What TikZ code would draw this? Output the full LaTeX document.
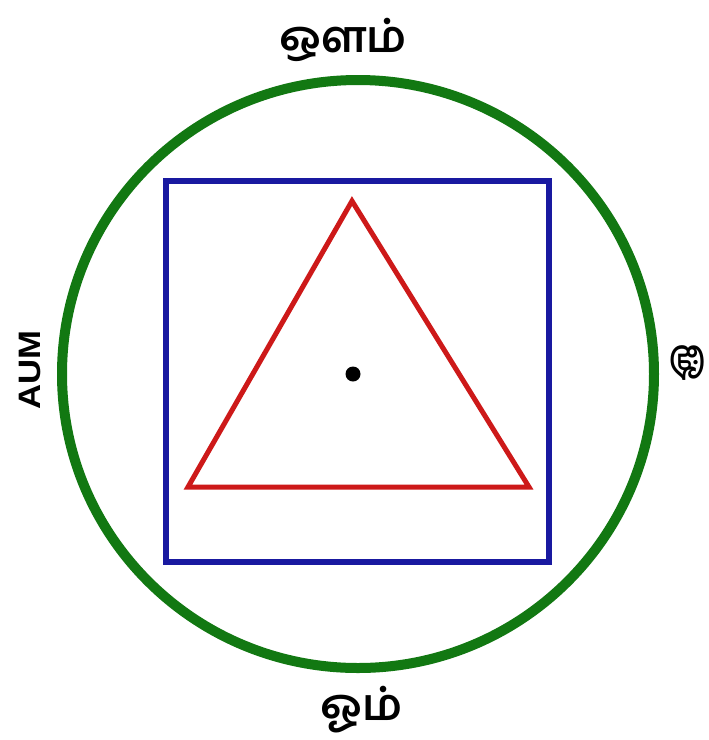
\documentclass[tikz,border=0pt]{standalone}
\usepackage{fontspec}
\newfontfamily\tamil[Script=Tamil]{Hind Madurai}
\setsansfont{Liberation Sans}
\definecolor{cgreen}{RGB}{18,120,18}
\definecolor{cblue}{RGB}{25,25,160}
\definecolor{cred}{RGB}{205,25,25}
\begin{document}
\begin{tikzpicture}[x=1pt,y=-1pt,
  lbl/.style={inner sep=0pt, font=\tamil\bfseries\fontsize{44}{44}\selectfont}]
\useasboundingbox (0,0) rectangle (709,740);
\fill[white] (0,0) rectangle (709,740);
\coordinate (c) at (358,374);
\draw[cgreen, line width=10pt] (c) ellipse [x radius=296, y radius=294];
\draw[cblue, line width=6pt] (166,181) rectangle (549,562);
\draw[cred, line width=5pt, line join=miter] (352,201) -- (529,487) -- (188,487) -- cycle;
\fill[black] (353,374) circle (7.5);
\node[lbl] (top) at (343,40) {ஔம்};
\node[lbl] (bot) at (362,710) {ஓம்};
\node[lbl, rotate=-90, font=\tamil\bfseries\fontsize{36}{36}\selectfont] (right) at (688,362) {ௐ};
\node[inner sep=0pt, rotate=90, xscale=1.12, font=\sffamily\bfseries\fontsize{31}{31}\selectfont] (aum) at (30,370) {AUM};
\end{tikzpicture}
\end{document}
